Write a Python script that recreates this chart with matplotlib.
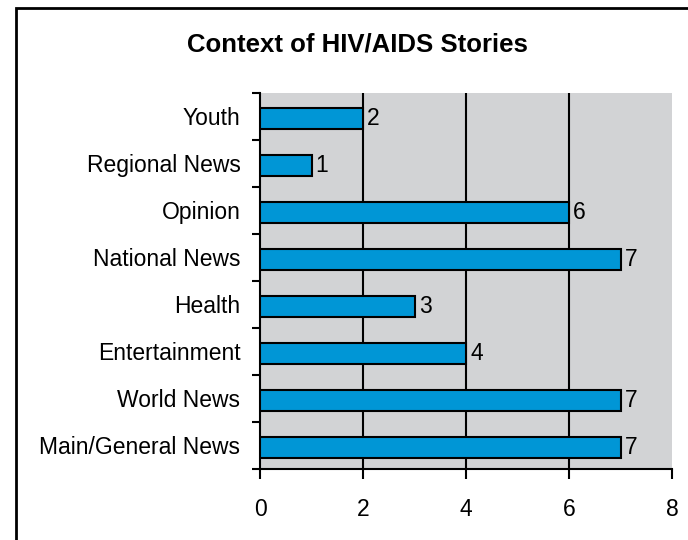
import matplotlib.pyplot as plt
from matplotlib.patches import Rectangle

plt.rcParams['font.family'] = ['Liberation Sans', 'DejaVu Sans']

categories = ["Main/General News", "World News", "Entertainment", "Health",
              "National News", "Opinion", "Regional News", "Youth"]
stories = [7, 7, 4, 3, 7, 6, 1, 2]
x_ticks = [0, 2, 4, 6, 8]

fig = plt.figure(figsize=(6.88, 5.4), dpi=100)
ax = fig.add_axes([0.378, 1 - 469 / 540, 0.599, 376 / 540])

ypos = list(range(len(categories)))
ax.barh([y - 0.04 for y in ypos], stories, height=0.45, color='#0096D6',
        edgecolor='black', linewidth=1.5, zorder=3)
for y, v in zip(ypos, stories):
    ax.text(v + 0.08, y - 0.04, str(v), va='center', ha='left', fontsize=16.5, zorder=4)

ax.set_facecolor('#D2D3D5')
ax.set_xlim(0, 8)
ax.set_ylim(-0.5, len(categories) - 0.5)
ax.set_xticks(x_ticks)
ax.set_xticklabels([str(t) for t in x_ticks], fontsize=16.5)
ax.tick_params(axis='x', direction='out', length=7, width=1.5, pad=14)
for t in x_ticks[1:-1]:
    ax.axvline(t, color='black', linewidth=1.5, zorder=2)

# category labels centred, ticks on category boundaries
ax.set_yticks([y - 0.5 for y in ypos] + [len(categories) - 0.5])
ax.set_yticklabels([])
ax.tick_params(axis='y', direction='out', length=6, width=1.5)
for y, c in zip(ypos, categories):
    ax.text(-0.38, y - 0.04, c, va='center', ha='right', fontsize=16.5)

for s in ['top', 'right']:
    ax.spines[s].set_visible(False)
for s in ['left', 'bottom']:
    ax.spines[s].set_linewidth(1.5)

fig.text(0.52, 1 - 45 / 540, "Context of HIV/AIDS Stories", ha='center', va='center',
         fontsize=18.5, fontweight='bold')

fig.patches.append(Rectangle((16 / 688, -0.1), 1.0, 1.1 - 8 / 540, transform=fig.transFigure,
                             fill=False, edgecolor='black', linewidth=2))

plt.savefig("out.png", dpi=100)
